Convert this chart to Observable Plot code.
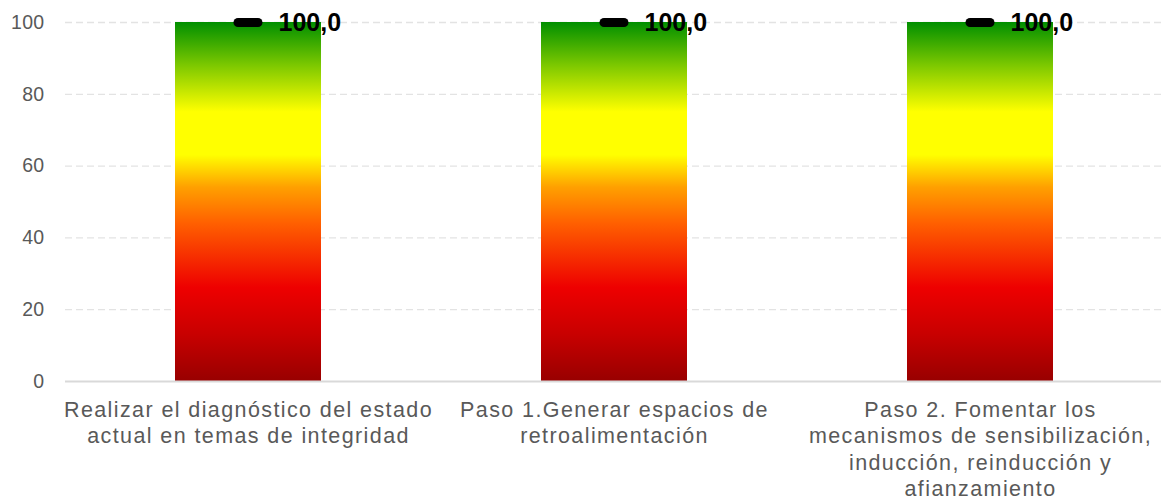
<!DOCTYPE html>
<html>
<head>
<meta charset="utf-8">
<script src="https://cdn.jsdelivr.net/npm/d3@7"></script>
<script src="https://cdn.jsdelivr.net/npm/@observablehq/plot@0.6"></script>
<style>
  html, body { margin: 0; padding: 0; background: #fff; }
  svg { display: block; }
</style>
</head>
<body>
<div id="chart"></div>
<script>
const categories = [
  "Realizar el diagnóstico del estado\nactual en temas de integridad",
  "Paso 1.Generar espacios de\nretroalimentación",
  "Paso 2. Fomentar los\nmecanismos de sensibilización,\ninducción, reinducción y\nafianzamiento"
];
const values = [100, 100, 100];
const yTicks = [0, 20, 40, 60, 80, 100];

const data = categories.map((c, i) => ({ category: c, value: values[i] }));
const fmt = v => v.toFixed(1).replace(".", ",");

const chart = Plot.plot({
  width: 1161,
  height: 503,
  marginLeft: 65,
  marginRight: 0,
  marginTop: 22,
  marginBottom: 122,
  style: { fontFamily: "'Liberation Sans', Arial, sans-serif", background: "#fff" },
  x: { domain: categories, range: [65, 1164], paddingInner: 0.6, paddingOuter: 0.3, label: null },
  y: { domain: [0, 100], ticks: yTicks, label: null },
  marks: [
    Plot.gridY(yTicks.filter(t => t > 0), { stroke: "#e3e3e3", strokeOpacity: 1, strokeWidth: 1.3, strokeDasharray: "7,4" }),
    Plot.barY(data, { x: "category", y: "value", fill: "url(#barGrad)" }),
    Plot.ruleY([0], { stroke: "#d9d9d9", strokeWidth: 2 }),
    Plot.axisY({ ticks: yTicks, tickSize: 0, tickPadding: 21, fontSize: 19.5, fill: "#595959", label: null }),
    Plot.axisX({ tickSize: 0, tickPadding: 17, fontSize: 21.5, fill: "#595959", lineHeight: 1.22, label: null }),
    Plot.tickY(data, { x: "category", y: "value", stroke: "black", strokeWidth: 9, strokeLinecap: "round", insetLeft: 63, insetRight: 63 }),
    Plot.text(data, { x: "category", y: "value", text: d => fmt(d.value), dx: 30, textAnchor: "start", fontWeight: "bold", fontSize: 25, fill: "black" })
  ]
});

const svg = d3.select(chart.tagName.toLowerCase() === "svg" ? chart : chart.querySelector("svg"));
svg.selectAll('g[aria-label="x-axis tick label"] text').style("letter-spacing", "1.4px");
svg.selectAll('g[aria-label="y-axis tick label"] text').style("letter-spacing", "0.3px");
const defs = svg.insert("defs", ":first-child");
const grad = defs.append("linearGradient")
  .attr("id", "barGrad").attr("x1", 0).attr("y1", 0).attr("x2", 0).attr("y2", 1);
[
  [0.00, "#008f00"],
  [0.12, "#7cc800"],
  [0.25, "#ffff00"],
  [0.37, "#ffff00"],
  [0.46, "#ffa000"],
  [0.56, "#ff6000"],
  [0.74, "#ee0000"],
  [0.87, "#c80000"],
  [1.00, "#980000"]
].forEach(([o, c]) => grad.append("stop").attr("offset", o).attr("stop-color", c));

document.getElementById("chart").appendChild(chart);
</script>
</body>
</html>
